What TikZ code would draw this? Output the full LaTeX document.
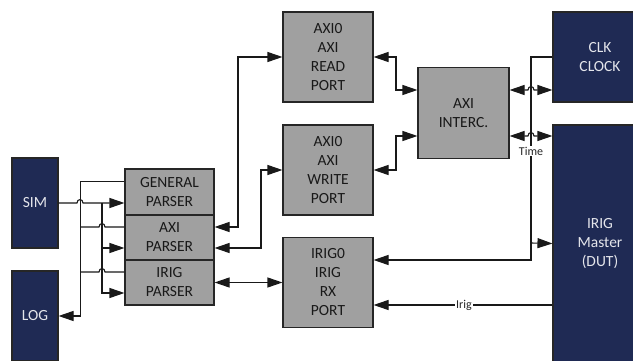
\documentclass[tikz,border=0pt]{standalone}
\usepackage{fontspec}
\setmainfont{Carlito}
\usetikzlibrary{arrows.meta,calc}
\definecolor{navy}{RGB}{31,42,84}
\definecolor{boxgray}{RGB}{160,160,160}
\begin{document}
\begin{tikzpicture}[x=1pt,y=-1pt,
  boxfont/.style={font=\fontsize{15.5}{19}\selectfont},
  bluebox/.style={boxfont,draw=black!85,line width=1.1pt,fill=navy,text=white!88!navy,align=center,inner sep=0pt},
  graybox/.style={boxfont,draw=black!85,line width=1.1pt,fill=boxgray,text=black!90,align=center,inner sep=0pt},
  conn/.style={line width=1.1pt,draw=black!90},
  arr/.style={-{Triangle[length=15pt,width=10pt]}},
  darr/.style={{Triangle[length=15pt,width=10pt]}-{Triangle[length=15pt,width=10pt]}},
  lbl/.style={fill=white,inner sep=1pt,text=black!85,font=\fontsize{12}{13}\selectfont}]
\useasboundingbox (0,0) rectangle (633,361);
\clip (0,0) rectangle (633,361);

% left blue boxes
\node[bluebox,minimum width=46pt,minimum height=90pt] (sim) at (35,203) {SIM};
\node[bluebox,minimum width=46pt,minimum height=90pt] (log) at (35,316) {LOG};

% parsers
\node[graybox,minimum width=89pt,minimum height=46pt] (gp) at (169.5,192) {GENERAL\\PARSER};
\node[graybox,minimum width=89pt,minimum height=45pt] (ap) at (169.5,237.5) {AXI\\PARSER};
\node[graybox,minimum width=89pt,minimum height=45pt] (ip) at (169.5,282.5) {IRIG\\PARSER};

% ports
\node[graybox,minimum width=90pt,minimum height=90pt] (rp) at (328,57) {AXI0\\AXI\\READ\\PORT};
\node[graybox,minimum width=90pt,minimum height=90pt] (wp) at (328,170) {AXI0\\AXI\\WRITE\\PORT};
\node[graybox,minimum width=90pt,minimum height=90pt] (rx) at (328,282.5) {IRIG0\\IRIG\\RX\\PORT};

% interconnect
\node[graybox,minimum width=91pt,minimum height=91pt] (ic) at (463.5,113) {AXI\\INTERC.};

% right blue boxes
\node[bluebox,minimum width=94pt,minimum height=90pt] (clk) at (600,57) {CLK\\CLOCK};
\node[bluebox,minimum width=94pt,minimum height=237pt] (dut) at (600,243.5) {IRIG\\Master\\(DUT)};

% SIM to parsers
\draw[conn,arr] (sim.east) -- (77,203) .. controls (77,198.5) and (83,198.5) .. (83,203) -- (gp.west |- sim.east);
\coordinate (j1) at (102,203);
\draw[conn,arr] (j1) |- ($(ap.west)+(0,10.5)$);
\draw[conn,arr] (j1) |- ($(ip.west)+(0,10.5)$);

% parsers to LOG
\draw[conn,arr] ($(gp.west)+(0,-10.5)$) -| ($(log.east)+(22,0)$) -- (log.east);
\draw[conn] ($(ap.west)+(0,-10.5)$) -- (105,227) .. controls (105,222.5) and (99,222.5) .. (99,227) -- (80,227);
\draw[conn] ($(ip.west)+(0,-10.5)$) -- (105,272) .. controls (105,267.5) and (99,267.5) .. (99,272) -- (80,272);

% parsers to ports
\draw[conn,darr] ($(ap.east)+(0,-10.5)$) -- (238,227) |- (rp.west);
\draw[conn,darr] ($(ap.east)+(0,10.5)$) -- (261,248) |- (wp.west);
\draw[conn,darr] (ip.east) -- (rx.west);

% ports to interconnect
\draw[conn,darr] (rp.east) -- (396,57) |- ($(ic.west)+(0,-23)$);
\draw[conn,darr] (wp.east) -- (396,170) |- ($(ic.west)+(0,23)$);

% interconnect to clock / DUT
\draw[conn,darr] ($(ic.east)+(0,-23)$) -- (528,90) .. controls (528,85.5) and (534,85.5) .. (534,90) -- (clk.west |- 0,90);
\draw[conn,darr] ($(ic.east)+(0,23)$) -- (528,136) .. controls (528,131.5) and (534,131.5) .. (534,136) -- (dut.west |- 0,136);

% Time line
\draw[conn,arr] (clk.west) -- (531,57) -- (531,260) -- ($(rx.east)+(0,-22.5)$);
\draw[conn,arr] (531,243) -- (dut.west);
\node[lbl] (time) at (531,151) {Time};

% Irig line
\draw[conn,arr] (dut.west |- 0,305) -- ($(rx.east)+(0,22.5)$);
\node[lbl] (irig) at (464,305) {Irig};
\end{tikzpicture}
\end{document}
